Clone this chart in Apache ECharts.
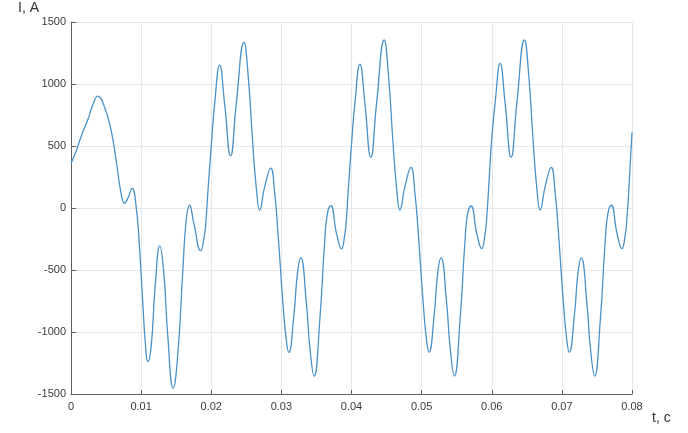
<!DOCTYPE html>
<html>
<head>
<meta charset="utf-8">
<script src="https://cdn.jsdelivr.net/npm/echarts@6/dist/echarts.min.js"></script>
<style>
html,body{margin:0;padding:0;background:#fff;}
#chart{width:688px;height:433px;}
</style>
</head>
<body>
<div id="chart"></div>
<script>
// Time samples, s
var timeS = [
  0, 0.00071, 0.00143, 0.00238, 0.0031, 0.00381, 0.00476, 0.00571, 0.00643, 0.00714, 0.00762, 0.0081, 0.00871, 0.00929, 0.00976,
  0.01024, 0.01057, 0.01095, 0.01143, 0.012, 0.01267, 0.01324, 0.01381, 0.01457, 0.01524, 0.01595, 0.01643, 0.0169, 0.01752,
  0.01848, 0.01905, 0.01926, 0.01957,
  0.02, 0.0205, 0.0212, 0.0219, 0.02276, 0.02357, 0.02467, 0.02524, 0.02595, 0.02643, 0.0269, 0.02762, 0.02848, 0.02905, 0.02952,
  0.03024, 0.03071, 0.03105, 0.03181, 0.03229, 0.03276, 0.03357, 0.03405, 0.03467, 0.03548, 0.03619, 0.03657, 0.03705, 0.03786,
  0.03857, 0.03905, 0.03926, 0.03957,
  0.04, 0.0405, 0.0412, 0.0419, 0.04276, 0.04357, 0.04467, 0.04524, 0.04595, 0.04643, 0.0469, 0.04762, 0.04848, 0.04905, 0.04952,
  0.05024, 0.05071, 0.05105, 0.05181, 0.05229, 0.05276, 0.05357, 0.05405, 0.05467, 0.05548, 0.05619, 0.05657, 0.05705, 0.05786,
  0.05857, 0.05905, 0.05926, 0.05957,
  0.06, 0.0605, 0.0612, 0.0619, 0.06276, 0.06357, 0.06467, 0.06524, 0.06595, 0.06643, 0.0669, 0.06762, 0.06848, 0.06905, 0.06952,
  0.07024, 0.07071, 0.07105, 0.07181, 0.07229, 0.07276, 0.07357, 0.07405, 0.07467, 0.07548, 0.07619, 0.07657, 0.07705, 0.07786,
  0.07857, 0.07905, 0.07926, 0.07957, 0.08
];
// Current, A
var currentA = [
  360, 455, 575, 710, 830, 903, 817, 629, 387, 118, 38, 78, 159, 11, -312,
  -769, -1064, -1239, -1118, -634, -306, -527, -1038, -1454, -1172, -500, -97, 22, -124,
  -344, -210, -97, 172,
  500, 850, 1153, 844, 420, 844, 1335, 1086, 495, 160, -16, 172, 322, 118, -204,
  -780, -1070, -1165, -849, -527, -400, -769, -1118, -1357, -903, -258, -43, 18, -204,
  -330, -210, -97, 172,
  510, 855, 1161, 850, 409, 840, 1355, 1095, 500, 160, -16, 172, 328, 118, -204,
  -780, -1070, -1164, -849, -527, -403, -769, -1118, -1355, -903, -258, -43, 16, -204,
  -328, -210, -97, 172,
  560, 860, 1167, 850, 409, 840, 1355, 1095, 500, 160, -16, 172, 328, 118, -204,
  -780, -1070, -1164, -849, -527, -403, -769, -1118, -1355, -903, -258, -43, 22, -204,
  -328, -210, -97, 172, 610
];
var xTicks = { min: 0, max: 0.08, step: 0.01 };
var yTicks = { min: -1500, max: 1500, step: 500 };
var yAxisTitle = 'I, A';
var xAxisTitle = 't, c';

var points = timeS.map(function (t, i) { return [t, currentA[i]]; });
var font = '"Liberation Sans", Arial, sans-serif';
var chart = echarts.init(document.getElementById('chart'), null, { renderer: 'canvas' });
chart.setOption({
  animation: false,
  backgroundColor: '#ffffff',
  grid: { left: 71, right: 56, top: 22, bottom: 39, containLabel: false },
  xAxis: {
    type: 'value', min: xTicks.min, max: xTicks.max, interval: xTicks.step,
    axisLine: { show: true, onZero: false, lineStyle: { color: '#5f5f5f', width: 1 } },
    axisTick: { show: true, inside: true, length: 4, lineStyle: { color: '#5f5f5f' } },
    axisLabel: { color: '#3a3a3a', fontSize: 11, fontFamily: font, margin: 7,
      formatter: function (v) { return String(+v.toFixed(2)); } },
    splitLine: { show: true, lineStyle: { color: '#e8e8e8', width: 1 } }
  },
  yAxis: {
    type: 'value', min: yTicks.min, max: yTicks.max, interval: yTicks.step,
    axisLine: { show: true, onZero: false, lineStyle: { color: '#5f5f5f', width: 1 } },
    axisTick: { show: true, inside: true, length: 5, lineStyle: { color: '#5f5f5f' } },
    axisLabel: { color: '#3a3a3a', fontSize: 11, fontFamily: font, margin: 5,
      formatter: function (v) { return String(v); } },
    splitLine: { show: true, lineStyle: { color: '#e8e8e8', width: 1 } }
  },
  graphic: [
    { type: 'text', left: 18, top: 1, style: { text: yAxisTitle, fill: '#333', font: '14px ' + font } },
    { type: 'text', left: 652, top: 411, style: { text: xAxisTitle, fill: '#333', font: '14px ' + font } }
  ],
  series: [{
    type: 'line', data: points, showSymbol: false, smooth: 0.5,
    lineStyle: { color: '#4a92c8', width: 1.3 }, clip: true
  }]
});
</script>
</body>
</html>
